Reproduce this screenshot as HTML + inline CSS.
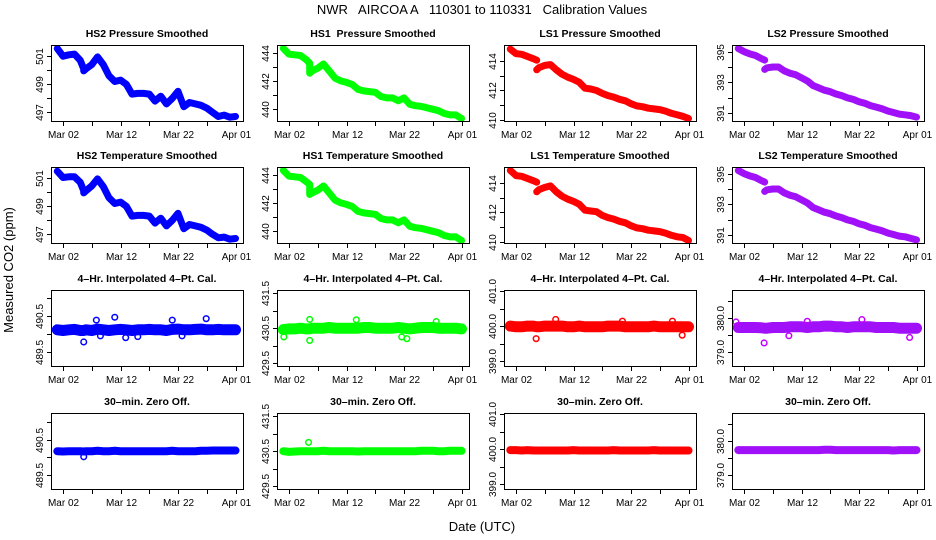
<!DOCTYPE html>
<html><head><meta charset="utf-8"><style>
body{margin:0;background:#fff}
svg{display:block;font-family:"Liberation Sans",Arial,sans-serif}
</style></head><body>
<svg id="chart" width="936" height="540" viewBox="0 0 936 540">
<text x="482" y="14" font-size="13" text-anchor="middle" style="white-space:pre">NWR   AIRCOA A   110301 to 110331   Calibration Values</text>
<text transform="translate(13,270) rotate(-90)" font-size="13" text-anchor="middle">Measured CO2 (ppm)</text>
<text x="482" y="531" font-size="13" text-anchor="middle">Date (UTC)</text>
</svg>
<script>
const days = [-1,0,1,2,3,3.6,3.6,4,5,6,7,8,9,10,11,12,13,14,15,16,17,18,19,20,21,22,23,24,25,26,27,28,29,30];
const xTickDays = [-5,0,5,10,15,20,25,30];
const xTickLabels = {"0":"Mar 02","10":"Mar 12","20":"Mar 22","30":"Apr 01"};

const hs2Pressure = [501.55,501.0,501.1,501.15,500.7,500.1,499.95,500.1,500.4,500.95,500.4,499.6,499.2,499.3,499.0,498.3,498.35,498.35,498.3,497.8,498.15,497.6,498.0,498.5,497.4,497.7,497.6,497.5,497.3,497.0,496.7,496.8,496.65,496.7];
const hs1Pressure = [444.3,443.9,443.85,443.8,443.5,443.25,442.55,442.7,442.9,443.2,442.7,442.2,442.0,441.9,441.75,441.4,441.3,441.25,441.2,440.9,440.8,440.8,440.6,440.8,440.35,440.25,440.2,440.1,440.0,439.9,439.7,439.6,439.6,439.35];
const ls1Pressure = [414.8,414.5,414.45,414.3,414.15,414.05,413.4,413.55,413.7,413.75,413.4,413.1,412.9,412.75,412.55,412.15,412.1,412.0,411.8,411.65,411.55,411.4,411.3,411.1,410.95,410.9,410.8,410.75,410.7,410.6,410.45,410.35,410.25,410.1];
const ls2Pressure = [395.2,395.0,394.85,394.75,394.55,394.45,393.85,393.95,394.0,394.0,393.75,393.6,393.5,393.3,393.1,392.8,392.65,392.5,392.4,392.25,392.15,392.0,391.9,391.75,391.65,391.5,391.4,391.3,391.15,391.05,390.95,390.9,390.85,390.75];
const hs2Temp = [501.5,501.05,501.1,501.1,500.7,500.1,499.95,500.1,500.45,500.95,500.4,499.6,499.2,499.3,499.0,498.3,498.35,498.35,498.3,497.8,498.15,497.6,498.0,498.5,497.4,497.7,497.6,497.5,497.3,497.0,496.75,496.8,496.65,496.7];
const hs1Temp = [444.3,443.9,443.85,443.8,443.5,443.3,442.6,442.7,442.9,443.2,442.7,442.2,442.0,441.9,441.75,441.4,441.3,441.25,441.2,440.9,440.8,440.8,440.6,440.8,440.35,440.25,440.2,440.1,440.0,439.9,439.7,439.6,439.6,439.35];
const ls1Temp = [414.85,414.5,414.45,414.3,414.15,414.05,413.4,413.55,413.7,413.8,413.4,413.1,412.9,412.75,412.55,412.15,412.1,412.05,411.8,411.65,411.55,411.4,411.3,411.1,410.95,410.9,410.8,410.75,410.7,410.6,410.45,410.35,410.3,410.1];
const ls2Temp = [395.2,395.0,394.85,394.75,394.55,394.45,393.85,393.95,394.0,394.0,393.75,393.6,393.5,393.3,393.1,392.8,392.65,392.5,392.4,392.25,392.15,392.0,391.9,391.75,391.65,391.5,391.4,391.3,391.15,391.05,390.95,390.9,390.8,390.7];

const hs2Cal = [490.12,490.1,490.12,490.13,490.1,490.1,490.1,490.12,490.1,490.14,490.12,490.1,490.12,490.13,490.12,490.1,490.12,490.12,490.13,490.12,490.12,490.1,490.13,490.14,490.12,490.12,490.13,490.14,490.12,490.12,490.13,490.12,490.12,490.12];
const hs1Cal = [430.46,430.48,430.48,430.5,430.48,430.48,430.48,430.5,430.5,430.5,430.52,430.5,430.5,430.5,430.5,430.5,430.52,430.52,430.5,430.5,430.5,430.5,430.52,430.5,430.48,430.5,430.52,430.52,430.52,430.5,430.5,430.5,430.5,430.48];
const ls1Cal = [400.0,399.98,399.98,400.0,400.0,399.98,399.98,399.98,400.0,400.0,400.0,400.0,399.98,399.98,400.0,399.98,399.98,399.98,399.98,400.0,400.0,400.0,399.98,399.98,399.98,399.98,399.98,400.0,399.98,399.98,399.98,399.98,399.98,399.98];
const ls2Cal = [379.72,379.72,379.72,379.72,379.71,379.7,379.7,379.7,379.72,379.72,379.72,379.74,379.74,379.74,379.72,379.74,379.74,379.76,379.76,379.74,379.74,379.72,379.74,379.74,379.74,379.74,379.72,379.72,379.72,379.72,379.7,379.7,379.7,379.7];
const hs2Zero = [490.18,490.17,490.18,490.18,490.18,490.17,490.17,490.18,490.18,490.19,490.18,490.18,490.19,490.18,490.18,490.18,490.18,490.18,490.18,490.18,490.18,490.18,490.19,490.18,490.18,490.18,490.18,490.19,490.19,490.2,490.2,490.2,490.2,490.2];
const hs1Zero = [430.5,430.48,430.49,430.5,430.5,430.5,430.5,430.5,430.5,430.51,430.5,430.5,430.5,430.5,430.5,430.49,430.5,430.5,430.5,430.5,430.5,430.5,430.5,430.5,430.5,430.5,430.51,430.51,430.51,430.5,430.5,430.51,430.51,430.51];
const ls1Zero = [399.97,399.97,399.96,399.97,399.96,399.96,399.96,399.96,399.96,399.96,399.96,399.96,399.96,399.97,399.96,399.96,399.96,399.96,399.96,399.96,399.97,399.96,399.96,399.96,399.96,399.96,399.96,399.97,399.96,399.96,399.96,399.96,399.96,399.96];
const ls2Zero = [379.73,379.73,379.73,379.73,379.73,379.73,379.73,379.73,379.73,379.73,379.73,379.73,379.73,379.73,379.73,379.73,379.73,379.74,379.74,379.73,379.73,379.73,379.73,379.73,379.73,379.73,379.73,379.73,379.73,379.72,379.73,379.73,379.73,379.73];

const hs2CalOutDays = [3.6,9,5.8,24.9,19,10.9,20.7,13,6.5];
const hs2CalOutVals = [489.78,490.47,490.39,490.43,490.39,489.9,489.95,489.93,489.95];
const hs1CalOutDays = [3.6,3.6,20.5,19.6,11.7,25.6,-0.9];
const hs1CalOutVals = [430.75,430.15,430.2,430.25,430.74,430.69,430.25];
const ls1CalOutDays = [3.5,6.9,27.2,28.9,18.5];
const ls1CalOutVals = [399.64,400.19,400.14,399.74,400.14];
const ls2CalOutDays = [3.5,20.5,11,28.8,7.8,-1.4];
const ls2CalOutVals = [379.27,379.95,379.9,379.43,379.48,379.88];
const hs2ZeroOutDays = [3.6];
const hs2ZeroOutVals = [490.02];
const hs1ZeroOutDays = [3.4];
const hs1ZeroOutVals = [430.75];
const ls1ZeroOutDays = [];
const ls1ZeroOutVals = [];
const ls2ZeroOutDays = [];
const ls2ZeroOutVals = [];

const svg = document.getElementById('chart');
const NS = 'http://www.w3.org/2000/svg';
const colLeft = [51,277,504,732];
const rowTop = [45,167,290,413];
const PW = 192, PH = 76;
const XMIN = -2.09, XMAX = -2.09 + 192/5.75;
const colors = ['#0000ff','#00ff00','#ff0000','#a010f8'];
const outColors = ['#0000ff','#00ff00','#ff0000','#c000ff'];

const panels = [
 {r:0,c:0,t:'HS2 Pressure Smoothed',v:hs2Pressure,y:[496.38,501.8],ticks:[497,498,499,500,501],lab:[497,499,501],gap:false,w:7,n:'hs2-pressure'},
 {r:0,c:1,t:'HS1  Pressure Smoothed',v:hs1Pressure,y:[439.17,444.54],ticks:[440,441,442,443,444],lab:[440,442,444],gap:false,w:7,n:'hs1-pressure'},
 {r:0,c:2,t:'LS1 Pressure Smoothed',v:ls1Pressure,y:[409.93,415.08],ticks:[410,411,412,413,414],lab:[410,412,414],gap:true,w:7,n:'ls1-pressure'},
 {r:0,c:3,t:'LS2 Pressure Smoothed',v:ls2Pressure,y:[390.5,395.43],ticks:[391,392,393,394,395],lab:[391,393,395],gap:true,w:7,n:'ls2-pressure'},
 {r:1,c:0,t:'HS2 Temperature Smoothed',v:hs2Temp,y:[496.38,501.8],ticks:[497,498,499,500,501],lab:[497,499,501],gap:false,w:7,n:'hs2-temperature'},
 {r:1,c:1,t:'HS1 Temperature Smoothed',v:hs1Temp,y:[439.17,444.54],ticks:[440,441,442,443,444],lab:[440,442,444],gap:false,w:7,n:'hs1-temperature'},
 {r:1,c:2,t:'LS1 Temperature Smoothed',v:ls1Temp,y:[409.93,415.08],ticks:[410,411,412,413,414],lab:[410,412,414],gap:true,w:7,n:'ls1-temperature'},
 {r:1,c:3,t:'LS2 Temperature Smoothed',v:ls2Temp,y:[390.5,395.43],ticks:[391,392,393,394,395],lab:[391,393,395],gap:true,w:7,n:'ls2-temperature'},
 {r:2,c:0,t:'4\u2013Hr. Interpolated 4\u2013Pt. Cal.',v:hs2Cal,od:hs2CalOutDays,ov:hs2CalOutVals,y:[489.11,491.23],ticks:[489.5,490,490.5,491],lab:[489.5,490.5],dec:1,w:11,n:'hs2-cal'},
 {r:2,c:1,t:'4\u2013Hr. Interpolated 4\u2013Pt. Cal.',v:hs1Cal,od:hs1CalOutDays,ov:hs1CalOutVals,y:[429.42,431.59],ticks:[429.5,430,430.5,431,431.5],lab:[429.5,430.5,431.5],dec:1,w:11,n:'hs1-cal'},
 {r:2,c:2,t:'4\u2013Hr. Interpolated 4\u2013Pt. Cal.',v:ls1Cal,od:ls1CalOutDays,ov:ls1CalOutVals,y:[398.86,401.03],ticks:[399,399.5,400,400.5,401],lab:[399,400,401],dec:1,w:11,n:'ls1-cal'},
 {r:2,c:3,t:'4\u2013Hr. Interpolated 4\u2013Pt. Cal.',v:ls2Cal,od:ls2CalOutDays,ov:ls2CalOutVals,y:[378.6,380.81],ticks:[379,379.5,380,380.5],lab:[379,380],dec:1,w:11,n:'ls2-cal'},
 {r:3,c:0,t:'30\u2013min. Zero Off.',v:hs2Zero,od:hs2ZeroOutDays,ov:hs2ZeroOutVals,y:[489.1,491.27],ticks:[489.5,490,490.5,491],lab:[489.5,490.5],dec:1,w:8,n:'hs2-zero'},
 {r:3,c:1,t:'30\u2013min. Zero Off.',v:hs1Zero,od:hs1ZeroOutDays,ov:hs1ZeroOutVals,y:[429.42,431.59],ticks:[429.5,430,430.5,431,431.5],lab:[429.5,430.5,431.5],dec:1,w:8,n:'hs1-zero'},
 {r:3,c:2,t:'30\u2013min. Zero Off.',v:ls1Zero,od:ls1ZeroOutDays,ov:ls1ZeroOutVals,y:[398.86,401.03],ticks:[399,399.5,400,400.5,401],lab:[399,400,401],dec:1,w:8,n:'ls1-zero'},
 {r:3,c:3,t:'30\u2013min. Zero Off.',v:ls2Zero,od:ls2ZeroOutDays,ov:ls2ZeroOutVals,y:[378.6,380.81],ticks:[379,379.5,380,380.5],lab:[379,380],dec:1,w:8,n:'ls2-zero'}
];

function mk(tag, attrs, parent){
  const e = document.createElementNS(NS, tag);
  for (const k in attrs) e.setAttribute(k, attrs[k]);
  (parent||svg).appendChild(e);
  return e;
}

panels.forEach(p => {
  const L = colLeft[p.c], T = rowTop[p.r];
  const xs = d => L + (d - XMIN) / (XMAX - XMIN) * PW;
  const ys = v => T + PH - (v - p.y[0]) / (p.y[1] - p.y[0]) * PH;
  const g = mk('g', {});
  
  
  const clip = 'clip-' + p.n;
  const cp = mk('clipPath', {id: clip}, g);
  mk('rect', {x: L, y: T, width: PW, height: PH}, cp);
  const tt = mk('text', {x: L + PW/2, y: T - 8, 'font-size': 10.5, 'font-weight': 'bold', 'text-anchor': 'middle', style: 'white-space:pre'}, g);
  tt.textContent = p.t;
  
  
  let segs = [], cur = [];
  for (let i = 0; i < days.length; i++) {
    if (i > 0 && days[i] === days[i-1] && p.gap) { segs.push(cur); cur = []; }
    cur.push(xs(days[i]).toFixed(1) + ',' + ys(p.v[i]).toFixed(1));
  }
  segs.push(cur);
  const col = colors[p.c];
  segs.forEach(s => {
    const pl = mk('polyline', {points: s.join(' '), fill: 'none', stroke: col, 'stroke-width': p.w, 'stroke-linejoin': 'round', 'stroke-linecap': 'round', 'clip-path': 'url(#' + clip + ')'}, g);
    
    
  });
  if (p.od) {
    p.od.forEach((d, i) => {
      const c = mk('circle', {cx: xs(d), cy: ys(p.ov[i]), r: 2.8, fill: 'none', stroke: outColors[p.c], 'stroke-width': 1.5}, g);
      
      
    });
  }
  const bx = mk('rect', {x: L + 0.5, y: T + 0.5, width: PW, height: PH, fill: 'none', stroke: '#000', 'stroke-width': 1}, g);
  
  
  xTickDays.forEach(d => {
    const x = Math.round(xs(d)) + 0.5;
    if (x < L || x > L + PW + 1) return;
    mk('line', {x1: x, x2: x, y1: T + PH + 1, y2: T + PH + 5, stroke: '#000'}, g);
    const lab = xTickLabels[String(d)];
    if (lab) {
      const t = mk('text', {x: x, y: T + PH + 17, 'font-size': 10, 'text-anchor': 'middle'}, g);
      t.textContent = lab;
      
      
    }
  });
  p.ticks.forEach(v => {
    const y = Math.round(ys(v)) + 0.5;
    mk('line', {x1: L - 4, x2: L, y1: y, y2: y, stroke: '#000'}, g);
    if (p.lab.indexOf(v) >= 0) {
      const t = mk('text', {transform: 'translate(' + (L - 8) + ',' + y + ') rotate(-90)', 'font-size': 10, 'text-anchor': 'middle'}, g);
      t.textContent = p.dec ? v.toFixed(1) : String(v);
      
      
    }
  });
});
</script>
</body></html>
